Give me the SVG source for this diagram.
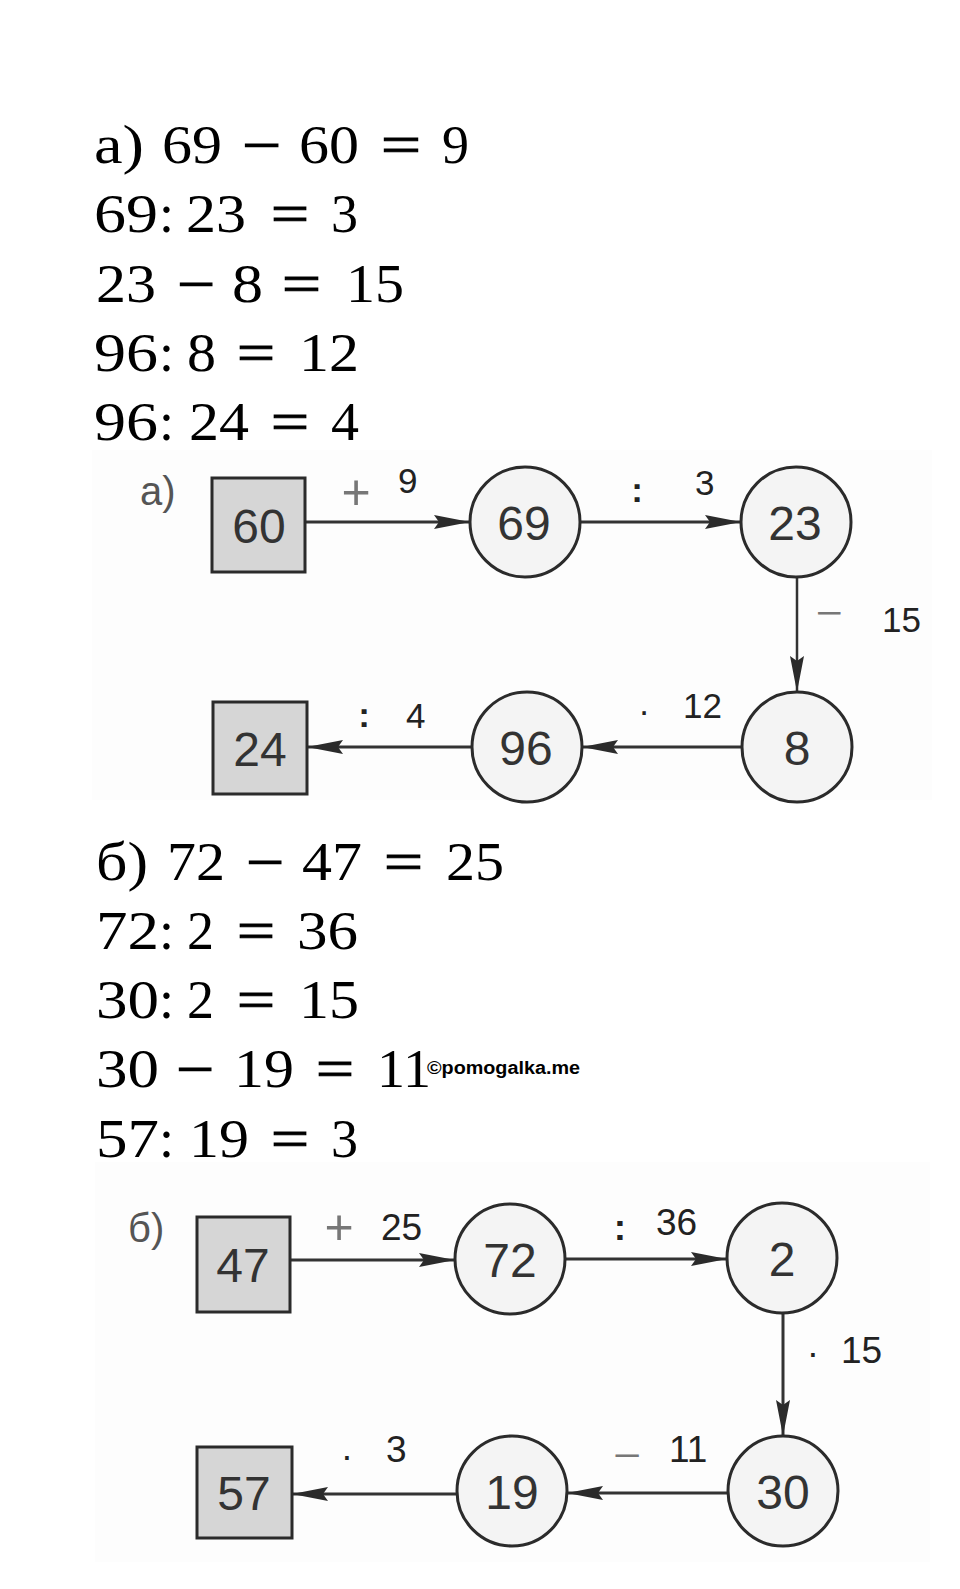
<svg xmlns="http://www.w3.org/2000/svg" width="960" height="1589" viewBox="0 0 960 1589">
<style>
.eq text{font-family:"Liberation Serif","Times New Roman",serif;font-size:54px;fill:#000}
.eq text.th{stroke:#000;stroke-width:1.1}
.box{fill:#d6d6d6;stroke:#2b2b2b;stroke-width:3}
.circ{fill:#f4f4f4;stroke:#2b2b2b;stroke-width:3}
.nt{font-family:"Liberation Sans",Arial,sans-serif;font-size:48px;fill:#333;text-anchor:middle}
.lblA{font-family:"Liberation Sans",Arial,sans-serif;font-size:35px;fill:#222}
.lblB{font-family:"Liberation Sans",Arial,sans-serif;font-size:37px;fill:#222}
.op{fill:#777;text-anchor:middle}
.plus{font-size:50px}
.dk{text-anchor:middle;font-weight:bold}
.dot{text-anchor:middle}
.part{font-family:"Liberation Sans",Arial,sans-serif;font-size:40px;fill:#555}
.edge{stroke:#333;stroke-width:3;fill:none;marker-end:url(#ah)}
.wm{font-family:"Liberation Sans",Arial,sans-serif;font-size:18px;font-weight:bold;fill:#000}
</style>
<defs>
<marker id="ah" viewBox="0 0 36 16" refX="36" refY="8" markerWidth="36" markerHeight="16" markerUnits="userSpaceOnUse" orient="auto">
<path d="M0,1 L36,8 L0,15 L5,8 Z" fill="#2b2b2b"/>
</marker>
</defs>
<rect width="960" height="1589" fill="#fff"/>
<rect x="92" y="450" width="840" height="350" fill="#fdfdfd"/>
<rect x="95" y="1162" width="835" height="400" fill="#fdfdfd"/>

<g id="equations-a" class="eq">
<g id="eq-a1">
<text x="94" y="163" textLength="50" lengthAdjust="spacingAndGlyphs">а)</text>
<text x="162" y="163" textLength="60" lengthAdjust="spacingAndGlyphs">69</text>
<text class="th" x="242" y="163" textLength="39" lengthAdjust="spacingAndGlyphs">−</text>
<text x="299" y="163" textLength="60" lengthAdjust="spacingAndGlyphs">60</text>
<text class="th" x="381" y="163" textLength="40" lengthAdjust="spacingAndGlyphs">=</text>
<text x="442" y="163" textLength="27" lengthAdjust="spacingAndGlyphs">9</text>
</g>
<g id="eq-a2">
<text x="94" y="232" textLength="64" lengthAdjust="spacingAndGlyphs">69</text>
<text x="159" y="232">:</text>
<text x="186" y="232" textLength="60" lengthAdjust="spacingAndGlyphs">23</text>
<text class="th" x="271" y="232" textLength="38" lengthAdjust="spacingAndGlyphs">=</text>
<text x="331" y="232" textLength="27" lengthAdjust="spacingAndGlyphs">3</text>
</g>
<g id="eq-a3">
<text x="96" y="302" textLength="60" lengthAdjust="spacingAndGlyphs">23</text>
<text class="th" x="177" y="302" textLength="38" lengthAdjust="spacingAndGlyphs">−</text>
<text x="232" y="302" textLength="31" lengthAdjust="spacingAndGlyphs">8</text>
<text class="th" x="282" y="302" textLength="39" lengthAdjust="spacingAndGlyphs">=</text>
<text x="346" y="302" textLength="58" lengthAdjust="spacingAndGlyphs">15</text>
</g>
<g id="eq-a4">
<text x="94" y="371" textLength="64" lengthAdjust="spacingAndGlyphs">96</text>
<text x="159" y="371">:</text>
<text x="187" y="371" textLength="29" lengthAdjust="spacingAndGlyphs">8</text>
<text class="th" x="237" y="371" textLength="38" lengthAdjust="spacingAndGlyphs">=</text>
<text x="299" y="371" textLength="60" lengthAdjust="spacingAndGlyphs">12</text>
</g>
<g id="eq-a5">
<text x="94" y="440" textLength="64" lengthAdjust="spacingAndGlyphs">96</text>
<text x="159" y="440">:</text>
<text x="189" y="440" textLength="60" lengthAdjust="spacingAndGlyphs">24</text>
<text class="th" x="271" y="440" textLength="38" lengthAdjust="spacingAndGlyphs">=</text>
<text x="331" y="440" textLength="28" lengthAdjust="spacingAndGlyphs">4</text>
</g>
</g>

<g id="diagram-a">
<text id="label-a" class="part" x="140" y="505">а)</text>
<g id="connectors-a">
<line class="edge" x1="305" y1="522" x2="470" y2="522"/>
<line class="edge" x1="580" y1="522" x2="741" y2="522"/>
<line class="edge" x1="797" y1="578" x2="797" y2="692" style="stroke-width:2.5"/>
<line class="edge" x1="742" y1="747" x2="582" y2="747"/>
<line class="edge" x1="472" y1="747" x2="307" y2="747"/>
<text class="lblA op plus" x="356" y="509">+</text>
<text class="lblA" x="398" y="493">9</text>
<text class="lblA dk" x="637" y="502">:</text>
<text class="lblA" x="695" y="495">3</text>
<text class="lblA op" x="829" y="625" textLength="27" lengthAdjust="spacingAndGlyphs">−</text>
<text class="lblA" x="882" y="632">15</text>
<text class="lblA dot" x="644" y="723">·</text>
<text class="lblA" x="683" y="718">12</text>
<text class="lblA dk" x="364" y="727">:</text>
<text class="lblA" x="406" y="728">4</text>
</g>
<g id="node-60"><rect class="box" x="212" y="478" width="93" height="94"/><text class="nt" x="259" y="543">60</text></g>
<g id="node-69"><circle class="circ" cx="525" cy="522" r="55"/><text class="nt" x="524" y="540">69</text></g>
<g id="node-23"><circle class="circ" cx="796" cy="522" r="55"/><text class="nt" x="795" y="540">23</text></g>
<g id="node-8"><circle class="circ" cx="797" cy="747" r="55"/><text class="nt" x="797" y="765">8</text></g>
<g id="node-96"><circle class="circ" cx="527" cy="747" r="55"/><text class="nt" x="526" y="765">96</text></g>
<g id="node-24"><rect class="box" x="213" y="702" width="94" height="92"/><text class="nt" x="260" y="766">24</text></g>
</g>

<g id="equations-b" class="eq">
<g id="eq-b1">
<text x="96" y="880" textLength="52" lengthAdjust="spacingAndGlyphs">б)</text>
<text x="167" y="880" textLength="58" lengthAdjust="spacingAndGlyphs">72</text>
<text class="th" x="246" y="880" textLength="38" lengthAdjust="spacingAndGlyphs">−</text>
<text x="302" y="880" textLength="60" lengthAdjust="spacingAndGlyphs">47</text>
<text class="th" x="384" y="880" textLength="39" lengthAdjust="spacingAndGlyphs">=</text>
<text x="446" y="880" textLength="58" lengthAdjust="spacingAndGlyphs">25</text>
</g>
<g id="eq-b2">
<text x="96" y="949" textLength="63" lengthAdjust="spacingAndGlyphs">72</text>
<text x="159" y="949">:</text>
<text x="187" y="949" textLength="27" lengthAdjust="spacingAndGlyphs">2</text>
<text class="th" x="237" y="949" textLength="38" lengthAdjust="spacingAndGlyphs">=</text>
<text x="297" y="949" textLength="61" lengthAdjust="spacingAndGlyphs">36</text>
</g>
<g id="eq-b3">
<text x="96" y="1018" textLength="63" lengthAdjust="spacingAndGlyphs">30</text>
<text x="159" y="1018">:</text>
<text x="187" y="1018" textLength="27" lengthAdjust="spacingAndGlyphs">2</text>
<text class="th" x="237" y="1018" textLength="38" lengthAdjust="spacingAndGlyphs">=</text>
<text x="299" y="1018" textLength="60" lengthAdjust="spacingAndGlyphs">15</text>
</g>
<g id="eq-b4">
<text x="96" y="1087" textLength="63" lengthAdjust="spacingAndGlyphs">30</text>
<text class="th" x="176" y="1087" textLength="38" lengthAdjust="spacingAndGlyphs">−</text>
<text x="234" y="1087" textLength="60" lengthAdjust="spacingAndGlyphs">19</text>
<text class="th" x="316" y="1087" textLength="38" lengthAdjust="spacingAndGlyphs">=</text>
<text x="377" y="1087" textLength="54" lengthAdjust="spacingAndGlyphs">11</text>
</g>
<g id="eq-b5">
<text x="96" y="1157" textLength="63" lengthAdjust="spacingAndGlyphs">57</text>
<text x="159" y="1157">:</text>
<text x="189" y="1157" textLength="60" lengthAdjust="spacingAndGlyphs">19</text>
<text class="th" x="271" y="1157" textLength="38" lengthAdjust="spacingAndGlyphs">=</text>
<text x="331" y="1157" textLength="27" lengthAdjust="spacingAndGlyphs">3</text>
</g>
</g>
<text id="watermark" class="wm" x="427" y="1074" textLength="153" lengthAdjust="spacingAndGlyphs">©pomogalka.me</text>

<g id="diagram-b">
<text id="label-b" class="part" x="128" y="1242">б)</text>
<g id="connectors-b">
<line class="edge" x1="290" y1="1260" x2="455" y2="1260"/>
<line class="edge" x1="565" y1="1259" x2="727" y2="1259"/>
<line class="edge" x1="783" y1="1313" x2="783" y2="1436"/>
<line class="edge" x1="728" y1="1493" x2="567" y2="1493"/>
<line class="edge" x1="457" y1="1494" x2="292" y2="1494"/>
<text class="lblB op plus" x="339" y="1244">+</text>
<text class="lblB" x="381" y="1240">25</text>
<text class="lblB dk" x="620" y="1240">:</text>
<text class="lblB" x="656" y="1235">36</text>
<text class="lblB dot" x="813" y="1365">·</text>
<text class="lblB" x="841" y="1363">15</text>
<text class="lblB op" x="627" y="1468" textLength="28" lengthAdjust="spacingAndGlyphs">−</text>
<text class="lblB" x="669" y="1462">11</text>
<text class="lblB dot" x="347" y="1468">·</text>
<text class="lblB" x="386" y="1462">3</text>
</g>
<g id="node-47"><rect class="box" x="197" y="1217" width="93" height="95"/><text class="nt" x="243" y="1282">47</text></g>
<g id="node-72"><circle class="circ" cx="510" cy="1259" r="55"/><text class="nt" x="510" y="1277">72</text></g>
<g id="node-2"><circle class="circ" cx="782" cy="1258" r="55"/><text class="nt" x="782" y="1276">2</text></g>
<g id="node-30"><circle class="circ" cx="783" cy="1491" r="55"/><text class="nt" x="783" y="1509">30</text></g>
<g id="node-19"><circle class="circ" cx="512" cy="1491" r="55"/><text class="nt" x="512" y="1509">19</text></g>
<g id="node-57"><rect class="box" x="197" y="1447" width="95" height="91"/><text class="nt" x="244" y="1510">57</text></g>
</g>
</svg>
